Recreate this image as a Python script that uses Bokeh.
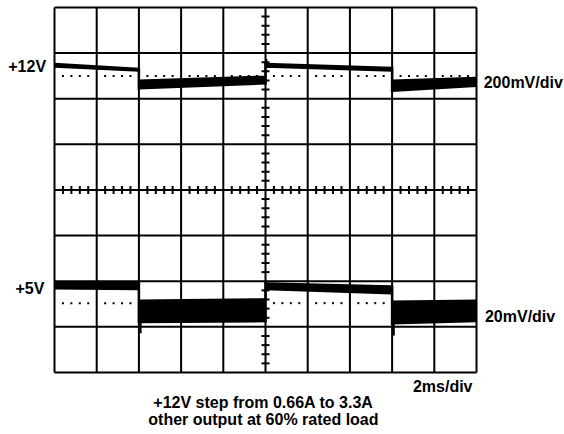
import numpy as np
from bokeh.plotting import figure
from bokeh.core.properties import value
from bokeh.embed import file_html
from bokeh.resources import INLINE

# ---- data (in graticule divisions) ----
# time axis: 10 divisions, 2 ms/div
t_div = [0, 2, 2, 5, 5, 8, 8, 10]
# +12V trace (200 mV/div): upper and lower edges of the trace band
v12_top = [6.79, 6.68, 6.42, 6.51, 6.79, 6.70, 6.42, 6.48]
v12_bot = [6.68, 6.59, 6.20, 6.31, 6.68, 6.59, 6.15, 6.26]
v12_ref = 6.50          # dotted nominal level
v12_spike_t = [5.02]
v12_spike_from = [6.76]
v12_spike_to = [6.87]
# +5V trace (20 mV/div)
v5_top = [2.00, 2.00, 1.60, 1.63, 1.98, 1.91, 1.58, 1.60]
v5_bot = [1.82, 1.80, 1.08, 1.10, 1.80, 1.71, 1.05, 1.10]
v5_ref = 1.52           # dotted nominal level
v5_spike_t = [2.04, 8.04]
v5_spike_from = [1.10, 1.08]
v5_spike_to = [0.86, 0.81]

n_xdiv, n_ydiv = 10, 8
minor = 5   # minor ticks per division on centre lines

# text labels
left_labels = ["+12V", "+5V"]
left_x = [-0.2, -0.24]
left_y = [6.71, 1.84]
right_labels = ["200mV/div", "20mV/div"]
right_x = [10.17, 10.2]
right_y = [6.36, 1.23]
time_label = "2ms/div"
caption = ["+12V step from 0.66A to 3.3A", "other output at 60% rated load"]
caption_y = [-0.66, -1.03]

FONT = "Liberation Sans"
W, H = 564, 434

p = figure(width=W, height=H,
           x_range=(-1.2796, 12.085), y_range=(-1.3589, 8.1534),
           output_backend="svg", toolbar_location=None,
           x_axis_location=None, y_axis_location=None,
           min_border=0)
p.xgrid.visible = False
p.ygrid.visible = False
p.background_fill_color = "white"
p.border_fill_color = "white"
p.outline_line_color = None

# graticule
gx = list(range(n_xdiv + 1))
gy = list(range(n_ydiv + 1))
p.segment(x0=gx, y0=[0] * len(gx), x1=gx, y1=[n_ydiv] * len(gx),
          line_color="black", line_width=2)
p.segment(x0=[0] * len(gy), y0=gy, x1=[n_xdiv] * len(gy), y1=gy,
          line_color="black", line_width=2)

# centre-line minor ticks
xc, yc = n_xdiv / 2, n_ydiv / 2
ty = [k / minor for k in range(n_ydiv * minor + 1) if k % minor]
tx = [k / minor for k in range(n_xdiv * minor + 1) if k % minor]
p.scatter(x=[xc] * len(ty), y=ty, marker="dash", size=8, line_width=2,
          line_color="black")
p.scatter(x=tx, y=[yc] * len(tx), marker="dash", size=8, angle=np.pi / 2,
          line_width=2, line_color="black")

# dotted nominal levels
for ref in (v12_ref, v5_ref):
    p.scatter(x=tx, y=[ref] * len(tx), marker="square", size=2,
              fill_color="black", line_color=None)

# traces
for top, bot, st, sf, sto in ((v12_top, v12_bot, v12_spike_t, v12_spike_from, v12_spike_to),
                              (v5_top, v5_bot, v5_spike_t, v5_spike_from, v5_spike_to)):
    p.varea(x=t_div, y1=bot, y2=top, fill_color="black")
    ex, e0, e1 = [], [], []
    for i in range(len(t_div) - 1):
        if t_div[i] == t_div[i + 1]:
            vals = [top[i], bot[i], top[i + 1], bot[i + 1]]
            ex.append(t_div[i]); e0.append(min(vals)); e1.append(max(vals))
    p.segment(x0=ex, y0=e0, x1=ex, y1=e1, line_color="black", line_width=2.5)
    p.segment(x0=st, y0=sf, x1=st, y1=sto, line_color="black", line_width=2)

txt = dict(text_font=value(FONT), text_font_size="16px", text_font_style="bold",
           text_baseline="middle", text_color="black")
p.text(x=left_x, y=left_y, text=left_labels, text_align="right", **txt)
p.text(x=right_x, y=right_y, text=right_labels, text_align="left", **txt)
p.text(x=[9.905], y=[-0.31], text=[time_label], text_align="right", **txt)
p.text(x=[4.95] * 2, y=caption_y, text=caption, text_align="center", **txt)

open("out.html", "w").write(file_html(p, INLINE))
